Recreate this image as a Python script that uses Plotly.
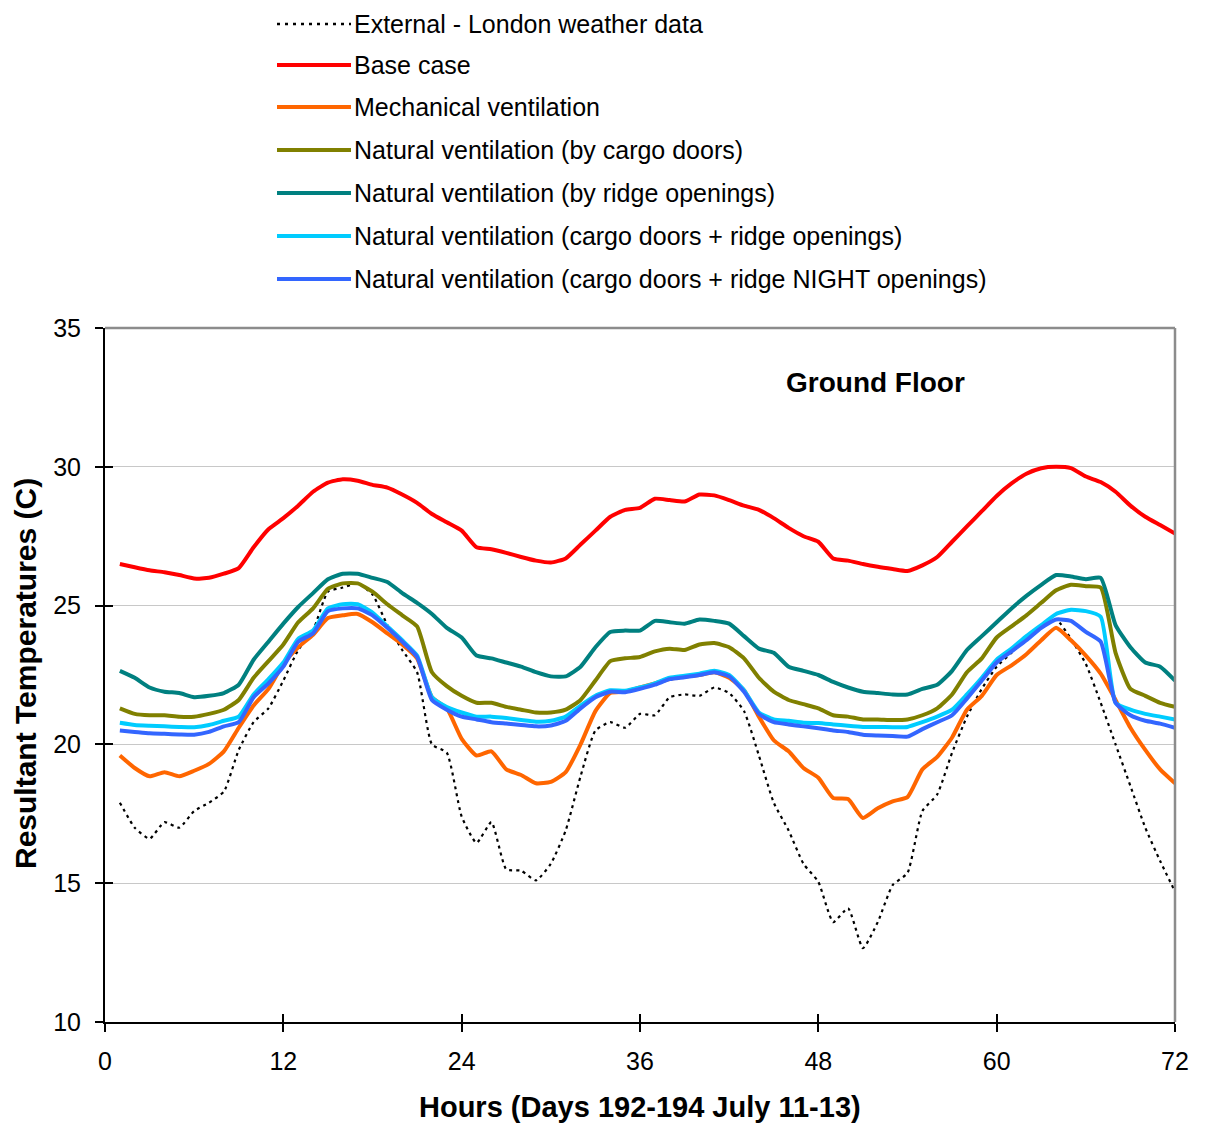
import plotly.graph_objects as go

hours = list(range(1, 73))

external = [17.9, 17.0, 16.6, 17.2, 17.0, 17.6, 17.9, 18.3, 19.8, 20.8, 21.3, 22.3,
            23.4, 24.1, 25.5, 25.65, 25.8, 25.4, 24.3, 23.4, 22.6, 20.0, 19.7, 17.4,
            16.45, 17.2, 15.5, 15.45, 15.1, 15.7, 16.9, 18.85, 20.5, 20.8, 20.6, 21.1,
            21.05, 21.7, 21.8, 21.75, 22.05, 21.85, 21.2, 19.6, 17.9, 16.9, 15.7, 15.05,
            13.6, 14.1, 12.66, 13.6, 14.93, 15.37, 17.6, 18.2, 19.7, 21.0, 22.0, 22.8,
            23.3, 23.8, 24.2, 24.5, 23.8, 22.9, 21.5, 20.0, 18.5, 17.0, 15.8, 14.7]

base_case = [26.5, 26.38, 26.27, 26.2, 26.1, 25.98, 26.0, 26.15, 26.35, 27.1, 27.75, 28.15,
             28.6, 29.1, 29.43, 29.55, 29.5, 29.35, 29.25, 29.0, 28.7, 28.3, 28.0, 27.7,
             27.1, 27.03, 26.9, 26.75, 26.62, 26.55, 26.7, 27.2, 27.7, 28.2, 28.45, 28.52,
             28.85, 28.8, 28.75, 29.0, 28.97, 28.8, 28.6, 28.45, 28.15, 27.8, 27.5, 27.3,
             26.7, 26.62, 26.5, 26.4, 26.32, 26.25, 26.45, 26.75, 27.3, 27.85, 28.4, 28.95,
             29.4, 29.75, 29.95, 30.0, 29.95, 29.65, 29.45, 29.1, 28.6, 28.2, 27.9, 27.6]

mechanical = [19.6, 19.15, 18.85, 19.0, 18.85, 19.05, 19.3, 19.75, 20.6, 21.4, 22.0, 22.9,
              23.5, 23.95, 24.55, 24.65, 24.7, 24.4, 24.0, 23.6, 23.1, 21.7, 21.3, 20.2,
              19.6, 19.75, 19.1, 18.9, 18.6, 18.65, 19.0, 20.0, 21.2, 21.85, 21.9, 22.05,
              22.2, 22.35, 22.45, 22.5, 22.6, 22.4, 21.95, 21.0, 20.15, 19.75, 19.15, 18.8,
              18.07, 18.03, 17.35, 17.7, 17.95, 18.1, 19.1, 19.55, 20.25, 21.25, 21.75, 22.5,
              22.85, 23.25, 23.75, 24.2, 23.75, 23.2, 22.55, 21.6, 20.6, 19.8, 19.1, 18.6]

cargo_doors = [21.3, 21.1, 21.05, 21.05, 21.0, 21.0, 21.1, 21.25, 21.6, 22.4, 23.0, 23.6,
               24.4, 24.9, 25.6, 25.8, 25.8, 25.5, 25.05, 24.65, 24.25, 22.6, 22.1, 21.75,
               21.5, 21.5, 21.35, 21.25, 21.15, 21.15, 21.25, 21.6, 22.3, 23.0, 23.1, 23.15,
               23.35, 23.45, 23.4, 23.6, 23.65, 23.5, 23.1, 22.4, 21.9, 21.6, 21.45, 21.3,
               21.05, 21.0, 20.9, 20.9, 20.88, 20.9, 21.05, 21.3, 21.8, 22.6, 23.1, 23.85,
               24.25, 24.65, 25.1, 25.55, 25.75, 25.7, 25.65, 23.3, 22.0, 21.75, 21.5, 21.35]

ridge = [22.65, 22.4, 22.05, 21.9, 21.85, 21.7, 21.75, 21.85, 22.15, 23.05, 23.7, 24.35,
         24.95, 25.45, 25.95, 26.15, 26.15, 26.0, 25.85, 25.45, 25.1, 24.7, 24.2, 23.85,
         23.2, 23.1, 22.95, 22.8, 22.6, 22.45, 22.45, 22.8, 23.5, 24.05, 24.1, 24.1,
         24.45, 24.4, 24.35, 24.5, 24.45, 24.35, 23.9, 23.45, 23.3, 22.8, 22.65, 22.5,
         22.25, 22.05, 21.9, 21.85, 21.8, 21.8, 22.0, 22.15, 22.65, 23.4, 23.9, 24.4,
         24.9, 25.35, 25.75, 26.1, 26.05, 25.95, 26.0, 24.3, 23.5, 22.95, 22.8, 22.3]

cargo_ridge = [20.78, 20.7, 20.67, 20.65, 20.63, 20.62, 20.7, 20.85, 21.0, 21.8, 22.35, 22.95,
               23.8, 24.1, 24.9, 25.05, 25.05, 24.75, 24.25, 23.75, 23.2, 21.7, 21.35, 21.15,
               21.0, 21.0, 20.95, 20.88, 20.82, 20.85, 21.0, 21.4, 21.75, 21.95, 21.93, 22.05,
               22.2, 22.4, 22.47, 22.55, 22.65, 22.5, 21.95, 21.15, 20.9, 20.85, 20.78, 20.77,
               20.72, 20.67, 20.63, 20.63, 20.62, 20.63, 20.8, 21.0, 21.25, 21.8, 22.4, 23.05,
               23.45, 23.9, 24.3, 24.7, 24.85, 24.8, 24.6, 21.5, 21.25, 21.1, 21.0, 20.9]

cargo_ridge_night = [20.5, 20.45, 20.4, 20.38, 20.36, 20.35, 20.45, 20.65, 20.8, 21.7, 22.2, 22.8,
                     23.7, 24.0, 24.8, 24.9, 24.9, 24.65, 24.2, 23.7, 23.15, 21.6, 21.25, 21.0,
                     20.9, 20.8, 20.75, 20.7, 20.65, 20.68, 20.85, 21.3, 21.7, 21.9, 21.88, 22.0,
                     22.15, 22.35, 22.42, 22.5, 22.6, 22.45, 21.9, 21.1, 20.8, 20.72, 20.65, 20.58,
                     20.5, 20.45, 20.35, 20.32, 20.3, 20.28, 20.55, 20.8, 21.05, 21.65, 22.3, 22.95,
                     23.35, 23.75, 24.2, 24.5, 24.45, 24.05, 23.7, 21.5, 21.05, 20.85, 20.75, 20.6]

series_names = [
    "External - London weather data",
    "Base case",
    "Mechanical ventilation",
    "Natural ventilation (by cargo doors)",
    "Natural ventilation (by ridge openings)",
    "Natural ventilation (cargo doors + ridge openings)",
    "Natural ventilation (cargo doors + ridge NIGHT openings)",
]
series_values = [external, base_case, mechanical, cargo_doors, ridge, cargo_ridge, cargo_ridge_night]
series_colors = ["#000000", "#FF0000", "#FF6600", "#808000", "#008080", "#00CCFF", "#3366FF"]

x_ticks = [0, 12, 24, 36, 48, 60, 72]
y_ticks = [10, 15, 20, 25, 30, 35]

x_title = "Hours (Days 192-194 July 11-13)"
y_title = "Resultant Temperatures (C)"
panel_title = "Ground Floor"

# page body has an 8px margin; target coordinates are in window pixels
OFF = 8
W, H = 1194, 1117
ML, MT = 105 - OFF, 328 - OFF
PW, PH = 1070, 694
MR = W - ML - PW
MB = H - MT - PH

def px_x(px):
    return (px - OFF - ML) / PW

def px_y(py):
    return (MT + PH - (py - OFF)) / PH

FONT = "Liberation Sans, Arial, sans-serif"

fig = go.Figure()
for name, vals, col in zip(series_names, series_values, series_colors):
    if name.startswith("External"):
        line = dict(color=col, width=2.2, dash="3px,4px", shape="spline", smoothing=0.5)
    else:
        line = dict(color=col, width=4, shape="spline", smoothing=0.5)
    fig.add_trace(go.Scatter(x=hours, y=vals, mode="lines", name=name, line=line,
                             showlegend=False, hoverinfo="x+y+name"))

# invisible trace to host overlay axes (inside tick halves)
fig.add_trace(go.Scatter(x=[None], y=[None], xaxis="x2", yaxis="y2", showlegend=False,
                         hoverinfo="skip"))

axis_common = dict(showline=True, linecolor="black", linewidth=2, zeroline=False,
                   ticks="outside", ticklen=8, tickwidth=1.5, tickcolor="black",
                   automargin=False,
                   tickfont=dict(family=FONT, size=25, color="black"))

fig.update_layout(
    width=W, height=H,
    margin=dict(l=ML, r=MR, t=MT, b=MB, autoexpand=False),
    paper_bgcolor="white", plot_bgcolor="white",
    showlegend=False,
    xaxis=dict(range=[0, 72], tickvals=x_ticks, showgrid=False,
               ticklabelstandoff=8, **axis_common),
    yaxis=dict(range=[10, 35], tickvals=y_ticks, showgrid=True, gridcolor="#C8C8C8",
               gridwidth=1.2, ticklabelstandoff=9, **axis_common),
    xaxis2=dict(range=[0, 72], tickvals=x_ticks, overlaying="x", showticklabels=False,
                showgrid=False, zeroline=False, showline=False, ticks="inside", ticklen=8,
                tickwidth=1.5, tickcolor="black", side="bottom", anchor="y2"),
    yaxis2=dict(range=[10, 35], tickvals=y_ticks, overlaying="y", showticklabels=False,
                showgrid=False, zeroline=False, showline=False, ticks="inside", ticklen=8,
                tickwidth=1.5, tickcolor="black", side="left", anchor="x2"),
)

# gray plot-area border (top and right)
fig.add_shape(type="line", xref="paper", yref="paper", x0=0, x1=1, y0=1, y1=1,
              line=dict(color="#8C8C8C", width=2.5), layer="above")
fig.add_shape(type="line", xref="paper", yref="paper", x0=1, x1=1, y0=0, y1=1,
              line=dict(color="#8C8C8C", width=2.5), layer="above")

# axis titles
fig.add_annotation(x=px_x(640), y=px_y(1107), xref="paper", yref="paper",
                   text="<b>" + x_title + "</b>", showarrow=False, borderpad=0,
                   xanchor="center", yanchor="middle",
                   font=dict(family=FONT, size=29, color="black"))
fig.add_annotation(x=px_x(25), y=px_y(674), xref="paper", yref="paper",
                   text="<b>" + y_title + "</b>", showarrow=False, textangle=-90,
                   xanchor="center", yanchor="middle", borderpad=0,
                   font=dict(family=FONT, size=30, color="black"))

fig.add_annotation(x=px_x(875), y=px_y(383), xref="paper", yref="paper",
                   text="<b>" + panel_title + "</b>", showarrow=False,
                   xanchor="center", yanchor="middle",
                   font=dict(family=FONT, size=28, color="black"))

# manual legend
legend_rows = [24, 65, 107, 150, 193, 236, 279]
for name, col, ry in zip(series_names, series_colors, legend_rows):
    if name.startswith("External"):
        ld = dict(color=col, width=2.5, dash="3px,5px")
    else:
        ld = dict(color=col, width=4)
    fig.add_shape(type="line", xref="paper", yref="paper",
                  x0=px_x(277), x1=px_x(351), y0=px_y(ry), y1=px_y(ry), line=ld)
    fig.add_annotation(x=px_x(353), y=px_y(ry), xref="paper", yref="paper",
                       text=name, showarrow=False, xanchor="left", yanchor="middle",
                       borderpad=0,
                       font=dict(family=FONT, size=25, color="black"))

fig.write_html("out.html")
